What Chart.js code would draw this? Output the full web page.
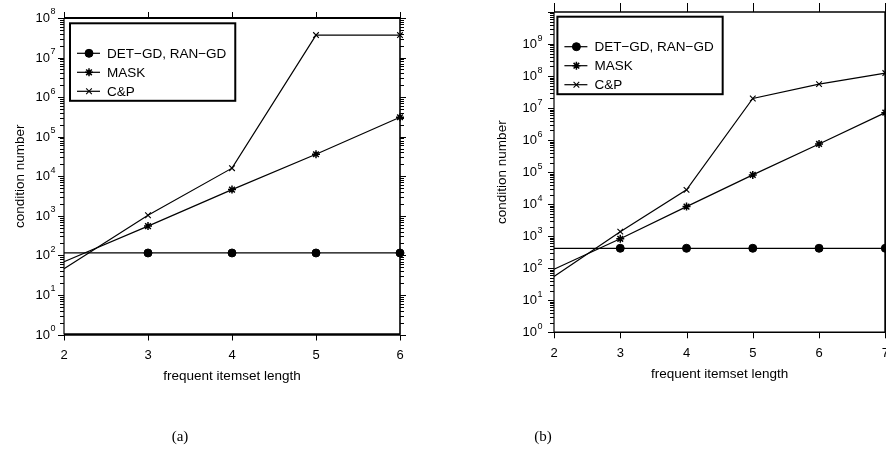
<!DOCTYPE html>
<html>
<head>
<meta charset="utf-8">
<script src="https://cdn.jsdelivr.net/npm/chart.js@4/dist/chart.umd.min.js"></script>
<style>
  html, body { margin: 0; padding: 0; background: #fff; width: 886px; height: 450px; overflow: hidden; }
  .panel { position: absolute; top: 0; }
  #panelA { left: 0; }
  #panelB { left: 443px; }
  .cap { position: absolute; top: 427px; font: 15px "Liberation Serif", "Times New Roman", serif; line-height: 18px; transform: translateX(-50%); }
</style>
</head>
<body>
<div class="panel" id="panelA"><canvas id="chartA" width="443" height="450"></canvas></div>
<div class="panel" id="panelB"><canvas id="chartB" width="460" height="450"></canvas></div>
<div class="cap" style="left:180px">(a)</div>
<div class="cap" style="left:543px">(b)</div>
<script>
// series names
const seriesNames = ['DET\u2212GD, RAN\u2212GD', 'MASK', 'C&P'];

// (a) frequent itemset length 2..6
const lenA = [2, 3, 4, 5, 6];
const detA = [115, 115, 115, 115, 115];
const maskA = [69, 550, 4600, 36000, 310000];
const cpA = [46, 1030, 16000, 37000000, 37000000];
const expA = [0, 1, 2, 3, 4, 5, 6, 7, 8];

// (b) frequent itemset length 2..7
const lenB = [2, 3, 4, 5, 6, 7];
const detB = [420, 420, 420, 420, 420, 420];
const maskB = [93, 830, 8400, 82000, 760000, 7200000];
const cpB = [55, 1390, 28000, 20000000, 56000000, 124000000];
const expB = [0, 1, 2, 3, 4, 5, 6, 7, 8, 9];

const FONT = '"Liberation Sans", Arial, Helvetica, sans-serif';
Chart.defaults.font.family = FONT;
Chart.defaults.color = '#000';

function makeSets(xs, det, mask, cp) {
  const pts = ys => xs.map((v, i) => ({ x: v, y: ys[i] }));
  // no marker on the first point, like the original plot
  const rad = r => xs.map((v, i) => i === 0 ? 0 : r);
  const base = { borderColor: '#000', backgroundColor: '#000', borderWidth: 1.2, tension: 0, clip: false };
  return [
    { ...base, label: seriesNames[0], data: pts(det), pointStyle: 'circle', pointRadius: rad(4), pointBorderWidth: 1, legendRadius: 4 },
    { ...base, label: seriesNames[1], data: pts(mask), pointStyle: 'star', pointRadius: rad(4), pointBorderWidth: 1.5, legendRadius: 4 },
    { ...base, label: seriesNames[2], data: pts(cp), pointStyle: 'crossRot', pointRadius: rad(4), pointBorderWidth: 1.1, legendRadius: 4 }
  ];
}

// frame, ticks on all sides, 10^n labels
const framePlugin = {
  id: 'frame',
  beforeDatasetsDraw(chart, args, o) {
    const { ctx, chartArea: a, scales: { x, y } } = chart;
    const seg = (x1, y1, x2, y2) => { ctx.beginPath(); ctx.moveTo(x1, y1); ctx.lineTo(x2, y2); ctx.stroke(); };
    ctx.save();
    ctx.strokeStyle = '#000';
    ctx.fillStyle = '#000';
    ctx.lineWidth = 1;

    const lo = Math.round(Math.log10(y.min)), hi = Math.round(Math.log10(y.max));
    for (let e = lo; e <= hi; e++) {
      for (let m = 1; m <= 9; m++) {
        if (e === hi && m > 1) break;
        const py = Math.round(y.getPixelForValue(m * Math.pow(10, e))) + 0.5;
        const len = m === 1 ? 6 : 4;
        seg(a.left - len, py, a.left, py);
        seg(a.right, py, a.right + len, py);
      }
    }
    o.exps.forEach(e => {
      const py = y.getPixelForValue(Math.pow(10, e));
      ctx.font = '13px ' + FONT;
      ctx.textAlign = 'right';
      ctx.textBaseline = 'middle';
      ctx.fillText('10', a.left - o.gap, py + 0.5);
      ctx.font = '9px ' + FONT;
      ctx.textAlign = 'left';
      ctx.fillText(String(e), a.left - o.gap + 0.5, py - 6);
    });

    o.xs.forEach(v => {
      const px = Math.round(x.getPixelForValue(v)) + 0.5;
      seg(px, a.bottom, px, a.bottom + 6);
      seg(px, a.top, px, a.top - o.topTick);
    });

    ctx.lineWidth = o.topW; seg(a.left, a.top, a.right, a.top);
    ctx.lineWidth = o.bottomW; seg(a.left, a.bottom, a.right, a.bottom);
    ctx.lineWidth = 1.2; seg(a.left, a.top, a.left, a.bottom);
    ctx.lineWidth = o.rightW; seg(a.right, a.top, a.right, a.bottom);
    ctx.restore();
  },
  afterDatasetsDraw(chart, args, o) {
    const { ctx, chartArea: a } = chart;
    const sets = chart.data.datasets;
    ctx.save();
    ctx.font = '13.5px ' + FONT;
    const textW = Math.max(...sets.map(d => ctx.measureText(d.label).width));
    const bx = a.left + o.dx, by = a.top + o.dy;
    const bw = 37 + textW + 9, bh = 77.5;
    ctx.fillStyle = '#fff';
    ctx.fillRect(bx, by, bw, bh);
    ctx.strokeStyle = '#000';
    ctx.lineWidth = 2;
    ctx.strokeRect(bx, by, bw, bh);
    sets.forEach((d, i) => {
      const cy = by + 30 + i * 19;
      ctx.fillStyle = '#000';
      ctx.lineWidth = 1.2;
      ctx.beginPath(); ctx.moveTo(bx + 7, cy); ctx.lineTo(bx + 30, cy); ctx.stroke();
      ctx.lineWidth = d.pointBorderWidth;
      Chart.helpers.drawPoint(ctx, { pointStyle: d.pointStyle, radius: d.legendRadius, rotation: 0, borderWidth: d.pointBorderWidth }, bx + 19, cy);
      ctx.font = '13.5px ' + FONT;
      ctx.textAlign = 'left';
      ctx.textBaseline = 'middle';
      ctx.fillText(d.label, bx + 37, cy + 0.5);
    });
    ctx.restore();
  }
};

function drawPanel(id, xs, det, mask, cp, exps, yMax, box) {
  return new Chart(document.getElementById(id), {
    type: 'line',
    data: { datasets: makeSets(xs, det, mask, cp) },
    options: {
      responsive: false,
      animation: false,
      events: [],
      layout: { padding: { top: box.top, right: box.right, left: 0, bottom: 0 } },
      scales: {
        x: {
          type: 'linear',
          min: xs[0],
          max: xs[xs.length - 1],
          grid: { display: false, drawTicks: false },
          border: { display: false },
          ticks: { stepSize: 1, font: { size: 13 }, padding: 13.5, maxRotation: 0 },
          title: { display: true, text: 'frequent itemset length', font: { size: 13.5 }, padding: { top: 0, bottom: box.xTitle } },
          afterFit: s => { s.height = box.xH; s.paddingLeft = 0; s.paddingRight = 0; }
        },
        y: {
          type: 'logarithmic',
          min: 1,
          max: yMax,
          grid: { display: false, drawTicks: false },
          border: { display: false },
          ticks: { display: false },
          title: { display: true, text: 'condition number', font: { size: 13.5 }, padding: { top: box.yTitle, bottom: 0 } },
          afterFit: s => { s.width = box.yW; }
        }
      },
      plugins: {
        legend: { display: false },
        tooltip: { enabled: false },
        frame: { exps: exps, xs: xs, gap: box.gap, topTick: box.topTick, topW: box.topW, bottomW: box.bottomW, rightW: box.rightW, dx: box.dx, dy: box.dy }
      }
    },
    plugins: [framePlugin]
  });
}

drawPanel('chartA', lenA, detA, maskA, cpA, expA, 1e8,
  { top: 18, right: 43, xH: 115.5, yW: 64, xTitle: 65.9, yTitle: 11.9, gap: 14, topTick: 6, topW: 2, bottomW: 2.5, rightW: 1.6, dx: 6, dy: 5.3 });
drawPanel('chartB', lenB, detB, maskB, cpB, expB, 1e10,
  { top: 12, right: 17.7, xH: 117.7, yW: 111, xTitle: 67.5, yTitle: 50.9, gap: 17, topTick: 9, topW: 1.3, bottomW: 1.5, rightW: 2, dx: 3.4, dy: 4.7 });
</script>
</body>
</html>
